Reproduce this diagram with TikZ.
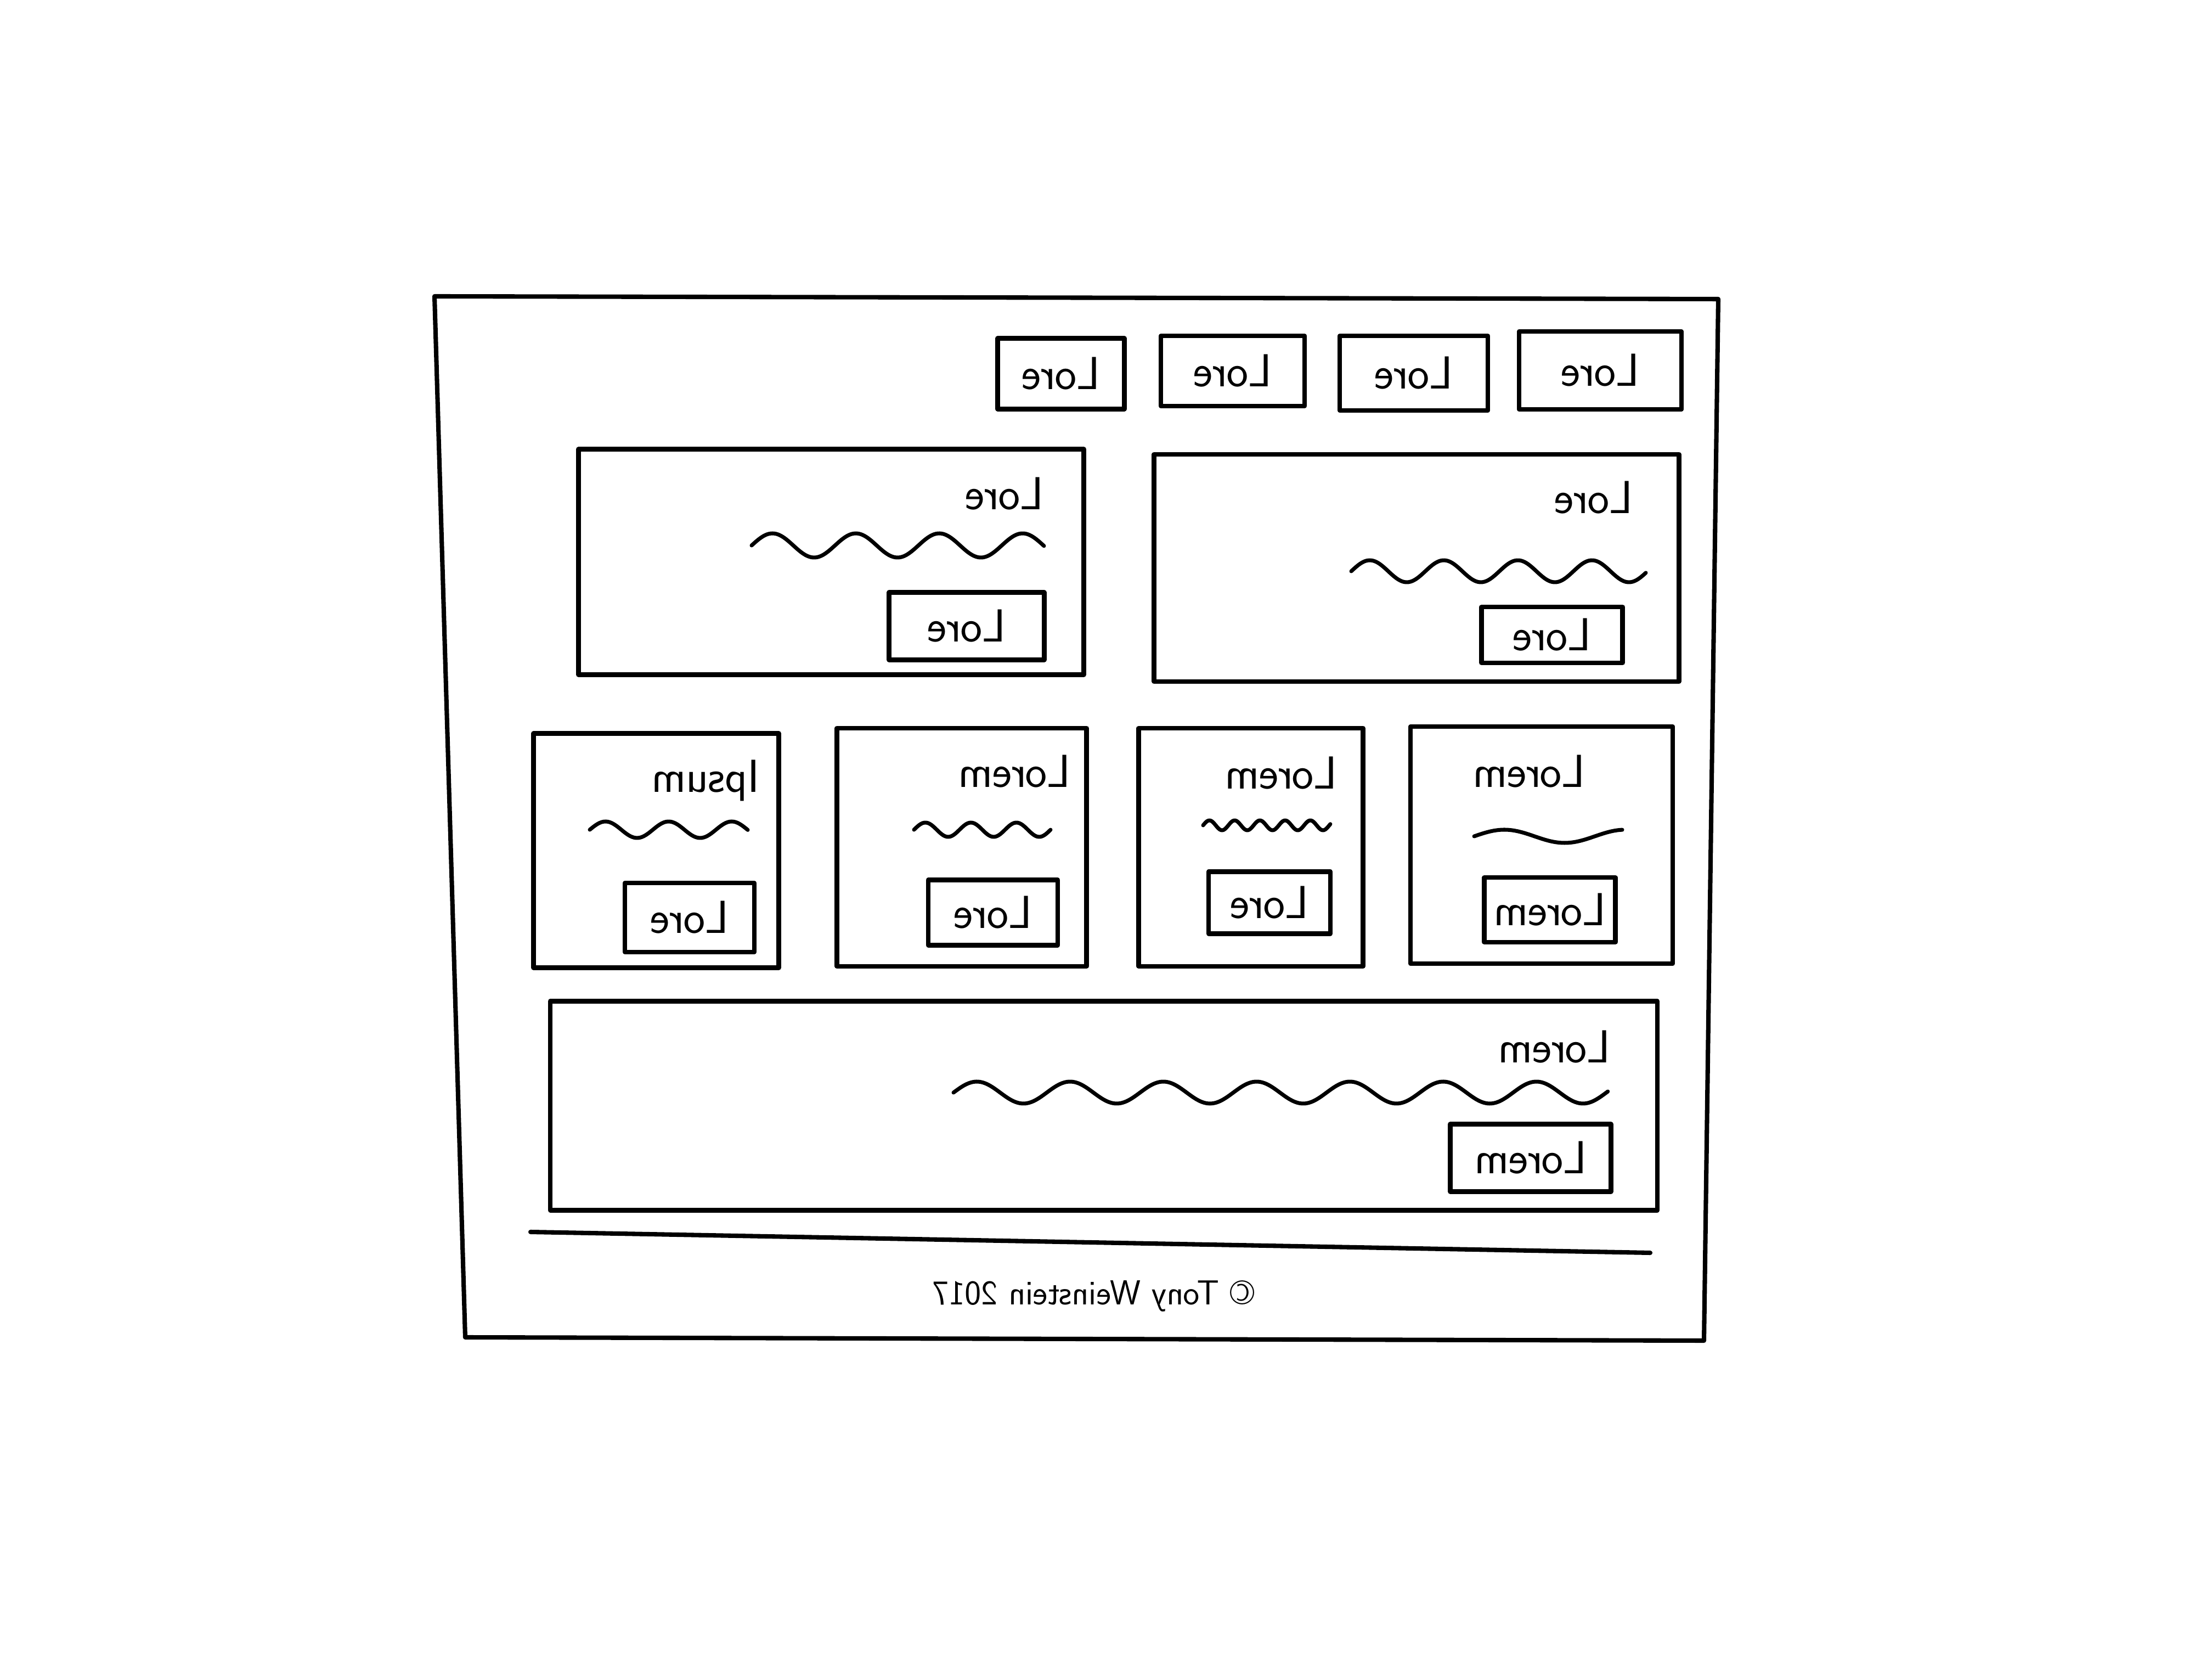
\documentclass[tikz,border=0pt]{standalone}
\usepackage{tikz}
\tikzset{>=stealth}
\tikzset{
  sketch/.style={line width=2.3pt, black, line cap=round, line join=round},
  box/.style={sketch, draw, rectangle, inner sep=0pt},
  mirrored/.style={xscale=-1, font=\sffamily\fontsize{24}{28}\selectfont},
  squiggle/.style={sketch, line width=2pt, smooth}
}

\begin{document}
\begin{tikzpicture}
      \fill[white] (0,0) rectangle (40.32,30.24);
      \useasboundingbox (0,0) rectangle (40.32,30.24);

      % page frame
      \draw[sketch] (7.92,24.84) -- (31.32,24.79) -- (31.06,5.81) -- (8.48,5.87) -- cycle;

      % top menu
      \node[box, minimum width=2.31cm, minimum height=1.29cm] at (19.34,23.43) (nav1) {};
      \node[box, minimum width=2.62cm, minimum height=1.28cm] at (22.47,23.48) (nav2) {};
      \node[box, minimum width=2.70cm, minimum height=1.36cm] at (25.77,23.44) (nav3) {};
      \node[box, minimum width=2.96cm, minimum height=1.42cm] at (29.17,23.49) (nav4) {};
      \node[mirrored] at (nav1) (nav1txt) {Lore};
      \node[mirrored] at (nav2) (nav2txt) {Lore};
      \node[mirrored] at (nav3) (nav3txt) {Lore};
      \node[mirrored] at (nav4) (nav4txt) {Lore};

      % two large cards
      \node[box, minimum width=9.21cm, minimum height=4.11cm] at (15.15,20.00) (bigA) {};
      \node[mirrored] at (18.31,21.24) (bigAtitle) {Lore};
      \draw[squiggle] plot[domain=13.70:19.03, samples=120] (\x, {20.30 + 0.22*sin(360*(\x-13.70)/1.52)});
      \node[box, minimum width=2.83cm, minimum height=1.23cm] at (17.62,18.83) (bigAbtn) {};
      \node[mirrored] at (bigAbtn) (bigAbtntxt) {Lore};

      \node[box, minimum width=9.57cm, minimum height=4.14cm] at (25.82,19.89) (bigB) {};
      \node[mirrored] at (29.05,21.17) (bigBtitle) {Lore};
      \draw[squiggle] plot[domain=24.63:30.00, samples=120] (\x, {19.83 + 0.2*sin(360*(\x-24.63)/1.35)});
      \node[box, minimum width=2.57cm, minimum height=1.02cm] at (28.29,18.67) (bigBbtn) {};
      \node[mirrored] at (bigBbtn) (bigBbtntxt) {Lore};

      % row of small cards
      \node[box, minimum width=4.47cm, minimum height=4.27cm] at (11.96,14.74) (smA) {};
      \node[mirrored] at (12.86,16.02) (smAtitle) {Ipsum};
      \draw[squiggle] plot[domain=10.75:13.63, samples=80] (\x, {15.12 + 0.15*sin(360*(\x-10.75)/1.15)});
      \node[box, minimum width=2.36cm, minimum height=1.26cm] at (12.57,13.52) (smAbtn) {};
      \node[mirrored] at (smAbtn) (smAbtntxt) {Lore};

      \node[box, minimum width=4.55cm, minimum height=4.34cm] at (17.53,14.80) (smB) {};
      \node[mirrored] at (18.49,16.18) (smBtitle) {Lorem};
      \draw[squiggle] plot[domain=16.66:19.15, samples=80] (\x, {15.12 + 0.13*sin(360*(\x-16.66)/0.83)});
      \node[box, minimum width=2.36cm, minimum height=1.19cm] at (18.10,13.61) (smBbtn) {};
      \node[mirrored] at (smBbtn) (smBbtntxt) {Lore};

      \node[box, minimum width=4.09cm, minimum height=4.34cm] at (22.80,14.80) (smC) {};
      \node[mirrored] at (23.35,16.15) (smCtitle) {Lorem};
      \draw[squiggle] plot[domain=21.93:24.25, samples=100] (\x, {15.20 + 0.09*sin(360*(\x-21.93)/0.46)});
      \node[box, minimum width=2.22cm, minimum height=1.13cm] at (23.14,13.79) (smCbtn) {};
      \node[mirrored] at (smCbtn) (smCbtntxt) {Lore};

      \node[box, minimum width=4.78cm, minimum height=4.32cm] at (28.10,14.84) (smD) {};
      \node[mirrored] at (27.87,16.18) (smDtitle) {Lorem};
      \draw[squiggle] plot[domain=26.87:29.57, samples=60] (\x, {15.00 + 0.12*sin(360*(\x-26.87)/2.2)});
      \node[box, minimum width=2.39cm, minimum height=1.18cm] at (28.25,13.66) (smDbtn) {};
      \node[mirrored] at (smDbtn) (smDbtntxt) {Lorem};

      % wide card
      \node[box, minimum width=20.18cm, minimum height=3.81cm] at (20.12,10.09) (wide) {};
      \node[mirrored] at (28.33,11.16) (widetitle) {Lorem};
      \draw[squiggle] plot[domain=17.38:29.31, samples=200] (\x, {10.33 + 0.2*sin(360*(\x-17.38)/1.7)});
      \node[box, minimum width=2.93cm, minimum height=1.23cm] at (27.90,9.14) (widebtn) {};
      \node[mirrored] at (widebtn) (widebtntxt) {Lorem};

      % footer
      \draw[sketch] (9.67,7.79) -- (30.08,7.41);
      \node[mirrored, font=\sffamily\fontsize{18}{22}\selectfont] at (19.93,6.62) (credit) {\textcopyright{} Tony Weinstein 2017};
\end{tikzpicture}
\end{document}
